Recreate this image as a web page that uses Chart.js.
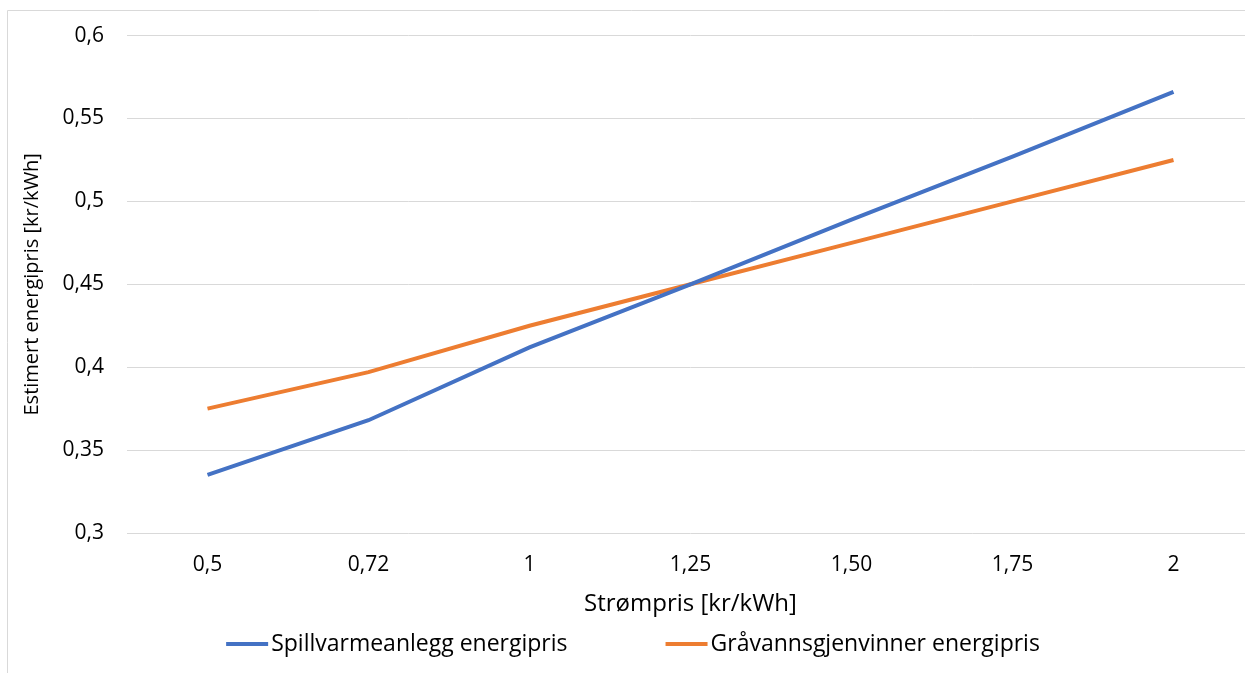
<!DOCTYPE html>
<html>
<head>
<meta charset="utf-8">
<script src="https://cdn.jsdelivr.net/npm/chart.js@4"></script>
<style>
html,body{margin:0;padding:0;background:#fff;overflow:hidden;width:1245px;height:673px;}
#wrap{position:absolute;left:0;top:0;width:1254px;height:673px;}
</style>
</head>
<body>
<div id="wrap"><canvas id="c" width="1254" height="673"></canvas></div>
<script>
const categories = ['0,5', '0,72', '1', '1,25', '1,50', '1,75', '2'];
const spillvarme = [0.335, 0.368, 0.412, 0.450, 0.489, 0.527, 0.566];
const gravann = [0.375, 0.397, 0.425, 0.450, 0.475, 0.500, 0.525];
const seriesNames = ['Spillvarmeanlegg energipris', 'Gråvannsgjenvinner energipris'];
const xTitle = 'Strømpris [kr/kWh]';
const yTitle = 'Estimert energipris [kr/kWh]';

const FONT = '"Open Sans", Lato, sans-serif';
const BLUE = '#4472C4', ORANGE = '#ED7D31';

const framePlugin = {
  id: 'frame',
  beforeDraw(chart) {
    const ctx = chart.ctx;
    ctx.save();
    ctx.strokeStyle = '#d9d9d9';
    ctx.lineWidth = 1;
    ctx.beginPath();
    ctx.moveTo(7.5, 700);
    ctx.lineTo(7.5, 10.5);
    ctx.lineTo(1300, 10.5);
    ctx.stroke();
    ctx.restore();
  }
};

const legendPlugin = {
  id: 'customLegend',
  afterDraw(chart) {
    const ctx = chart.ctx;
    const sets = chart.data.datasets;
    const fontSize = 23, box = 42, textGap = 3, itemGap = 98, cy = 644, cx = 633;
    ctx.save();
    ctx.font = fontSize + 'px ' + FONT;
    const widths = sets.map(d => ctx.measureText(d.label).width);
    let total = 0;
    widths.forEach((w, i) => { total += box + textGap + w + (i < widths.length - 1 ? itemGap : 0); });
    let x = cx - total / 2;
    sets.forEach((d, i) => {
      ctx.strokeStyle = d.borderColor;
      ctx.lineWidth = 4;
      ctx.beginPath();
      ctx.moveTo(x, cy);
      ctx.lineTo(x + box, cy);
      ctx.stroke();
      ctx.fillStyle = '#000';
      ctx.textBaseline = 'middle';
      ctx.textAlign = 'left';
      ctx.fillText(d.label, x + box + textGap, cy);
      x += box + textGap + widths[i] + itemGap;
    });
    ctx.restore();
  }
};

new Chart(document.getElementById('c'), {
  type: 'line',
  data: {
    labels: categories,
    datasets: [
      { label: seriesNames[0], data: spillvarme, borderColor: BLUE, backgroundColor: BLUE, borderWidth: 4, pointRadius: 0, tension: 0 },
      { label: seriesNames[1], data: gravann, borderColor: ORANGE, backgroundColor: ORANGE, borderWidth: 4, pointRadius: 0, tension: 0 }
    ]
  },
  options: {
    responsive: false,
    animation: false,
    layout: { padding: { top: 29, left: 0, right: 0, bottom: 50 } },
    plugins: {
      legend: { display: false },
      tooltip: { enabled: false }
    },
    scales: {
      x: {
        type: 'category',
        offset: true,
        grid: { display: false, drawTicks: false },
        border: { display: false },
        ticks: { font: { family: FONT, size: 21 }, color: '#000', padding: 19, maxRotation: 0 },
        title: { display: true, text: xTitle, font: { family: FONT, size: 24 }, color: '#000', padding: { top: 0, bottom: 4 } },
        afterFit(s) { s.height = 90; }
      },
      y: {
        min: 0.3, max: 0.6,
        grid: { color: '#d9d9d9', lineWidth: 1, drawTicks: false },
        border: { display: false },
        ticks: {
          stepSize: 0.05, font: { family: FONT, size: 21 }, color: '#000', padding: 23,
          callback: v => (Math.round(v * 100) / 100).toString().replace('.', ',')
        },
        title: { display: true, text: yTitle, font: { family: FONT, size: 20 }, color: '#000', padding: { top: 20, bottom: 0 } },
        afterFit(s) { s.width = 127; }
      }
    }
  },
  plugins: [framePlugin, legendPlugin]
});
</script>
</body>
</html>
